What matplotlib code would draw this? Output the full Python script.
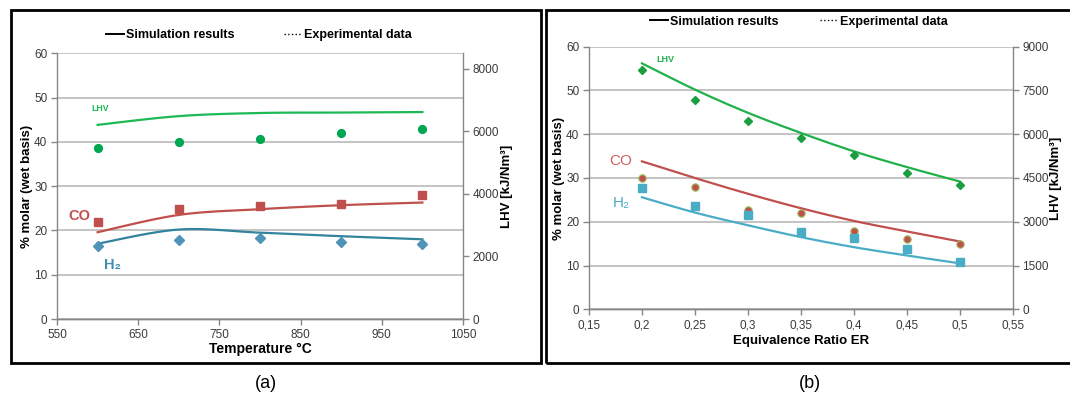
import numpy as np
import matplotlib
matplotlib.use("Agg")
import matplotlib.pyplot as plt
from matplotlib.lines import Line2D
from matplotlib.patches import Rectangle

plt.rcParams['font.family'] = ['Liberation Sans', 'DejaVu Sans']

# ---------------- data (a) ----------------
temp = [600, 700, 800, 900, 1000]
co_sim_a = [19.6, 23.5, 24.8, 25.7, 26.3]
h2_sim_a = [17.0, 20.2, 19.5, 18.7, 18.0]
lhv_sim_a = [6210, 6490, 6590, 6605, 6620]
co_exp_a = [22.0, 24.8, 25.6, 26.0, 28.0]
h2_exp_a = [16.4, 17.9, 18.4, 17.4, 16.9]
lhv_exp_a = [5465, 5665, 5760, 5950, 6075]
xticks_a = [550, 650, 750, 850, 950, 1050]

# ---------------- data (b) ----------------
er = [0.20, 0.25, 0.30, 0.35, 0.40, 0.45, 0.50]
co_sim_b = [33.8, 30.0, 26.4, 23.1, 20.2, 17.8, 15.5]
h2_sim_b = [25.6, 22.1, 19.2, 16.5, 14.2, 12.3, 10.5]
lhv_sim_b = [8430, 7530, 6735, 6045, 5415, 4875, 4380]
co_exp_b = [29.9, 27.9, 22.8, 21.9, 17.9, 16.0, 14.9]
h2_exp_b = [27.8, 23.7, 21.6, 17.7, 16.3, 13.8, 10.8]
lhv_exp_b = [8190, 7185, 6465, 5880, 5280, 4665, 4275]
xticks_b = [0.15, 0.20, 0.25, 0.30, 0.35, 0.40, 0.45, 0.50, 0.55]
xticklabels_b = ['0,15', '0,2', '0,25', '0,3', '0,35', '0,4', '0,45', '0,5', '0,55']


def smooth(x, y, n=24):
    """Excel-like smoothed line (uniform Catmull-Rom through the points)."""
    p = np.column_stack([np.asarray(x, float), np.asarray(y, float)])
    ext = np.vstack([p[0], p, p[-1]])
    out = []
    t = np.linspace(0, 1, n)[:, None]
    for i in range(1, len(ext) - 2):
        p0, p1, p2, p3 = ext[i - 1], ext[i], ext[i + 1], ext[i + 2]
        seg = 0.5 * ((2 * p1) + (-p0 + p2) * t + (2 * p0 - 5 * p1 + 4 * p2 - p3) * t ** 2
                     + (-p0 + 3 * p1 - 3 * p2 + p3) * t ** 3)
        out.append(seg if i == 1 else seg[1:])
    s = np.vstack(out)
    return s[:, 0], s[:, 1]


W, H = 1070, 400
fig = plt.figure(figsize=(W / 100, H / 100), dpi=100)

SP = '#868686'
GRID = '#c4c4c4'
TXT = '#3a3a3a'


def fr(x0, y0, x1, y1):
    return [x0 / W, 1 - y1 / H, (x1 - x0) / W, (y1 - y0) / H]


def style(ax, ax2):
    for a in (ax, ax2):
        a.spines['top'].set_visible(False)
        for s in ('left', 'right', 'bottom'):
            a.spines[s].set_color(SP)
            a.spines[s].set_linewidth(1.0)
        a.tick_params(colors=SP, labelcolor=TXT, labelsize=8.5, length=4, width=1.0, pad=3)
    ax.grid(axis='y', color=GRID, linewidth=1.4)
    ax.set_axisbelow(True)
    ax2.spines['left'].set_visible(False)
    ax.spines['right'].set_visible(False)


LEG = dict(ncol=2, loc='center', frameon=False, prop={'weight': 'bold', 'size': 9},
           handlelength=1.45, handletextpad=0.15, borderaxespad=0)

# ---------------- panel (a) ----------------
ax = fig.add_axes(fr(57, 53.3, 463, 319))
ax2 = ax.twinx()
style(ax, ax2)
ax.set_xlim(550, 1050)
ax.set_ylim(0, 60)
ax.set_xticks(xticks_a)
ax.set_yticks(range(0, 61, 10))
ax2.set_ylim(0, 8500)
ax2.set_yticks(range(0, 8001, 2000))

ax.plot(*smooth(temp, co_sim_a), color='#c0504d', lw=1.6)
ax.plot(*smooth(temp, h2_sim_a), color='#31849b', lw=1.6)
ax2.plot(*smooth(temp, lhv_sim_a), color='#1db954', lw=1.6)
ax.plot(temp, co_exp_a, ls='none', marker='s', ms=6.2, color='#c0504d')
ax.plot(temp, h2_exp_a, ls='none', marker='D', ms=4.8, color='#4f93b7')
ax2.plot(temp, lhv_exp_a, ls='none', marker='o', ms=5.6, color='#00a651')

ax.text(577, 23.3, 'CO', color='#c0504d', fontsize=10.5, fontweight='bold', ha='center', va='center')
ax.text(618.6, 12.2, 'H₂', color='#3d8eb0', fontsize=10.5, fontweight='bold', ha='center', va='center')
ax.text(603.8, 47.6, 'LHV', color='#1db954', fontsize=6.3, fontweight='bold', ha='center', va='center')

ax.set_xlabel('Temperature °C', fontsize=10, fontweight='bold', labelpad=1)
ax.set_ylabel('% molar (wet basis)', fontsize=9.5, fontweight='bold', labelpad=1)
ax2.set_ylabel('LHV [kJ/Nm³]', fontsize=9.5, fontweight='bold', labelpad=1)

handles = [Line2D([], [], color='black', lw=1.4, ls='-'),
           Line2D([], [], color='black', lw=1.0, ls=':')]
labels = ['Simulation results', 'Experimental data']
ax.legend(handles, labels, bbox_to_anchor=(0.497, 1.069), columnspacing=3.9, **LEG)

# ---------------- panel (b) ----------------
bx = fig.add_axes(fr(589, 46.7, 1012.7, 309.3))
bx2 = bx.twinx()
style(bx, bx2)
bx.set_xlim(0.15, 0.55)
bx.set_ylim(0, 60)
bx.set_xticks(xticks_b)
bx.set_xticklabels(xticklabels_b)
bx.set_yticks(range(0, 61, 10))
bx2.set_ylim(0, 9000)
bx2.set_yticks(range(0, 9001, 1500))

bx.plot(*smooth(er, co_sim_b), color='#c0504d', lw=1.6)
bx.plot(*smooth(er, h2_sim_b), color='#4bacc6', lw=1.6)
bx2.plot(*smooth(er, lhv_sim_b), color='#1fb24a', lw=1.6)
bx.plot(er, co_exp_b, ls='none', marker='o', ms=5.3, color='#c0504d', mec='#9bbb59', mew=0.8)
bx.plot(er, h2_exp_b, ls='none', marker='s', ms=5.8, color='#4bacc6')
bx2.plot(er, lhv_exp_b, ls='none', marker='D', ms=4.2, color='#1a9e3f')

bx.text(0.1802, 33.9, 'CO', color='#d0605c', fontsize=11, ha='center', va='center')
bx.text(0.180, 24.2, 'H₂', color='#4bacc6', fontsize=11, ha='center', va='center')
bx.text(0.2217, 57.1, 'LHV', color='#1fb24a', fontsize=6.5, fontweight='bold', ha='center', va='center')

bx.set_xlabel('Equivalence Ratio ER', fontsize=9.5, fontweight='bold', labelpad=3)
bx.set_ylabel('% molar (wet basis)', fontsize=9.5, fontweight='bold', labelpad=1)
bx2.set_ylabel('LHV [kJ/Nm³]', fontsize=9.5, fontweight='bold', labelpad=1)

bx.legend(handles, labels, bbox_to_anchor=(0.4945, 1.095), columnspacing=3.3, **LEG)

# ---------------- frames and captions ----------------
for (x0, x1) in ((11, 541), (546, 1080)):
    fig.patches.append(Rectangle((x0 / W, 1 - 362.5 / H), (x1 - x0) / W, (362.5 - 10) / H,
                                 transform=fig.transFigure, fill=False,
                                 edgecolor='black', linewidth=2.0))
fig.text(266 / W, 1 - 383 / H, '(a)', fontsize=13, ha='center', va='center')
fig.text(810 / W, 1 - 383 / H, '(b)', fontsize=13, ha='center', va='center')

fig.savefig('out.png', dpi=100)
